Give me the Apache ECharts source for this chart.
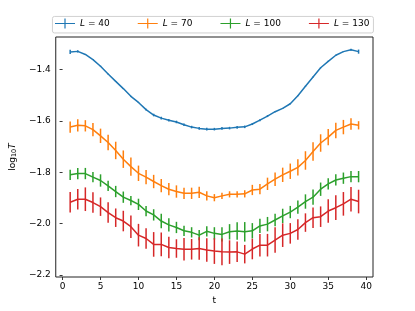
<!DOCTYPE html>
<html><head><meta charset="utf-8">
<script src="https://cdn.jsdelivr.net/npm/echarts@6/dist/echarts.min.js"></script>
<style>html,body{margin:0;padding:0;background:#fff}#c{width:415px;height:311px}</style>
</head><body><div id="c"></div>
<script>
var tValues = [1,2,3,4,5,6,7,8,9,10,11,12,13,14,15,16,17,18,19,20,21,22,23,24,25,26,27,28,29,30,31,32,33,34,35,36,37,38,39];
var seriesNames = ['40','70','100','130'];
var L40 = [-1.331,-1.329,-1.341,-1.361,-1.387,-1.417,-1.446,-1.474,-1.504,-1.528,-1.556,-1.577,-1.589,-1.597,-1.604,-1.615,-1.624,-1.629,-1.632,-1.632,-1.629,-1.628,-1.625,-1.623,-1.612,-1.597,-1.581,-1.564,-1.551,-1.533,-1.502,-1.465,-1.429,-1.393,-1.368,-1.344,-1.330,-1.323,-1.330];
var L40err = [0.008,0.004,0.002,0.002,0.002,0.002,0.002,0.002,0.002,0.002,0.003,0.005,0.005,0.005,0.005,0.005,0.005,0.005,0.005,0.005,0.005,0.005,0.005,0.005,0.004,0.004,0.004,0.002,0.002,0.002,0.002,0.002,0.002,0.002,0.002,0.002,0.002,0.004,0.008];
var L70 = [-1.624,-1.617,-1.619,-1.634,-1.658,-1.684,-1.715,-1.749,-1.778,-1.804,-1.819,-1.836,-1.852,-1.866,-1.875,-1.882,-1.882,-1.878,-1.892,-1.899,-1.892,-1.886,-1.886,-1.884,-1.869,-1.866,-1.845,-1.827,-1.810,-1.796,-1.781,-1.754,-1.719,-1.686,-1.663,-1.637,-1.624,-1.612,-1.617];
var L70err = [0.022,0.024,0.022,0.026,0.028,0.030,0.034,0.034,0.036,0.030,0.028,0.026,0.026,0.024,0.024,0.022,0.022,0.022,0.018,0.014,0.012,0.012,0.012,0.014,0.020,0.020,0.024,0.026,0.028,0.030,0.032,0.036,0.036,0.034,0.032,0.030,0.028,0.022,0.016];
var L100 = [-1.810,-1.805,-1.805,-1.819,-1.832,-1.853,-1.875,-1.897,-1.910,-1.925,-1.951,-1.966,-1.990,-2.005,-2.015,-2.028,-2.034,-2.045,-2.030,-2.038,-2.042,-2.032,-2.029,-2.032,-2.028,-2.009,-2.002,-1.986,-1.970,-1.955,-1.936,-1.914,-1.897,-1.866,-1.845,-1.830,-1.823,-1.817,-1.817];
var L100err = [0.020,0.022,0.022,0.020,0.024,0.020,0.022,0.022,0.018,0.022,0.020,0.022,0.028,0.026,0.022,0.020,0.020,0.020,0.020,0.024,0.028,0.030,0.034,0.038,0.030,0.028,0.028,0.024,0.028,0.024,0.026,0.028,0.030,0.026,0.022,0.022,0.022,0.022,0.022];
var L130 = [-1.917,-1.905,-1.905,-1.918,-1.934,-1.957,-1.977,-1.990,-2.012,-2.045,-2.058,-2.081,-2.081,-2.093,-2.097,-2.100,-2.100,-2.097,-2.103,-2.107,-2.110,-2.111,-2.110,-2.119,-2.099,-2.084,-2.084,-2.064,-2.045,-2.038,-2.023,-1.996,-1.977,-1.973,-1.951,-1.938,-1.923,-1.905,-1.914];
var L130err = [0.040,0.040,0.046,0.040,0.036,0.040,0.036,0.040,0.044,0.044,0.040,0.048,0.046,0.042,0.036,0.044,0.040,0.044,0.046,0.050,0.052,0.046,0.040,0.036,0.040,0.044,0.044,0.050,0.046,0.040,0.040,0.036,0.040,0.040,0.046,0.048,0.046,0.048,0.046];
var xTicks = [0,5,10,15,20,25,30,35,40];
var yTicks = [-2.2,-2.0,-1.8,-1.6,-1.4];

var colors = ['#1f77b4','#ff7f0e','#2ca02c','#d62728'];
var vals = [L40, L70, L100, L130];
var errs = [L40err, L70err, L100err, L130err];
var FONT = 'DejaVu Sans';

function minus(s){ return String(s).replace('-', '\u2212'); }

var series = [];
seriesNames.forEach(function(nm, i){
  var lineData = tValues.map(function(t, k){ return [t, vals[i][k]]; });
  var errData = tValues.map(function(t, k){ return [t, vals[i][k] - errs[i][k], vals[i][k] + errs[i][k]]; });
  series.push({
    name: nm, type: 'custom', data: errData, silent: true, z: 2 + i*2,
    encode: {x: 0, y: [1, 2]},
    renderItem: function(params, api){
      var p1 = api.coord([api.value(0), api.value(1)]);
      var p2 = api.coord([api.value(0), api.value(2)]);
      return {type: 'line', shape: {x1: p1[0], y1: p1[1], x2: p2[0], y2: p2[1]},
        style: {stroke: colors[i], lineWidth: 1.5}};
    }
  });
  series.push({
    name: nm, type: 'line', data: lineData, showSymbol: false, symbol: 'none', z: 3 + i*2,
    lineStyle: {color: colors[i], width: 1.5}, itemStyle: {color: colors[i]}, animation: false
  });
});

var icon = 'path://M0,4.4 L20,4.4 L20,5.6 L0,5.6 Z M9.4,0 L10.6,0 L10.6,10 L9.4,10 Z';

var chart = echarts.init(document.getElementById('c'), null, {renderer: 'canvas'});
chart.setOption({
  animation: false,
  backgroundColor: '#fff',
  textStyle: {fontFamily: FONT},
  grid: {left: 52, right: 42, top: 37, bottom: 34, show: true, borderColor: '#222', borderWidth: 1, backgroundColor: 'transparent'},
  graphic: [{type: 'rect', left: 52, top: 16, shape: {width: 321, height: 16.5, r: 2},
    style: {fill: '#fff', stroke: '#cccccc', lineWidth: 0.9}, z: 0}],
  legend: {
    left: 55, top: 18.5, itemWidth: 20, itemHeight: 10, itemGap: 28, padding: 0,
    icon: icon, selectedMode: false, z: 10,
    data: seriesNames.map(function(nm, i){ return {name: nm, itemStyle: {color: colors[i]}}; }),
    formatter: function(n){ return '{i|L} = ' + n; },
    textStyle: {fontFamily: FONT, fontSize: 9, color: '#000',
      rich: {i: {fontStyle: 'italic', fontFamily: FONT, fontSize: 9, color: '#000'}}}
  },
  xAxis: {
    type: 'value', min: -0.9, max: 40.9,
    name: 't', nameLocation: 'middle', nameGap: 19,
    nameTextStyle: {fontFamily: FONT, fontSize: 9, color: '#000'},
    axisLine: {show: false},
    axisTick: {show: true, length: 3, lineStyle: {color: '#222', width: 0.9}, customValues: xTicks},
    axisLabel: {fontFamily: FONT, fontSize: 9, color: '#000', margin: 5, customValues: xTicks,
      formatter: function(v){ return minus(v); }},
    splitLine: {show: false}
  },
  yAxis: {
    type: 'value', min: -2.208, max: -1.273,
    name: 'log{s|10}{i|T}', nameLocation: 'middle', nameGap: 31,
    nameTextStyle: {fontFamily: FONT, fontSize: 9, color: '#000',
      rich: {s: {fontSize: 6.5, fontFamily: FONT, color: '#000', verticalAlign: 'bottom', padding: [4,0,0,0]},
             i: {fontStyle: 'italic', fontSize: 9, fontFamily: FONT, color: '#000'}}},
    axisLine: {show: false},
    axisTick: {show: true, length: 3, lineStyle: {color: '#222', width: 0.9}, customValues: yTicks},
    axisLabel: {fontFamily: FONT, fontSize: 9, color: '#000', margin: 5, customValues: yTicks,
      formatter: function(v){ return minus(v.toFixed(1)); }},
    splitLine: {show: false}
  },
  series: series
});
</script></body></html>
